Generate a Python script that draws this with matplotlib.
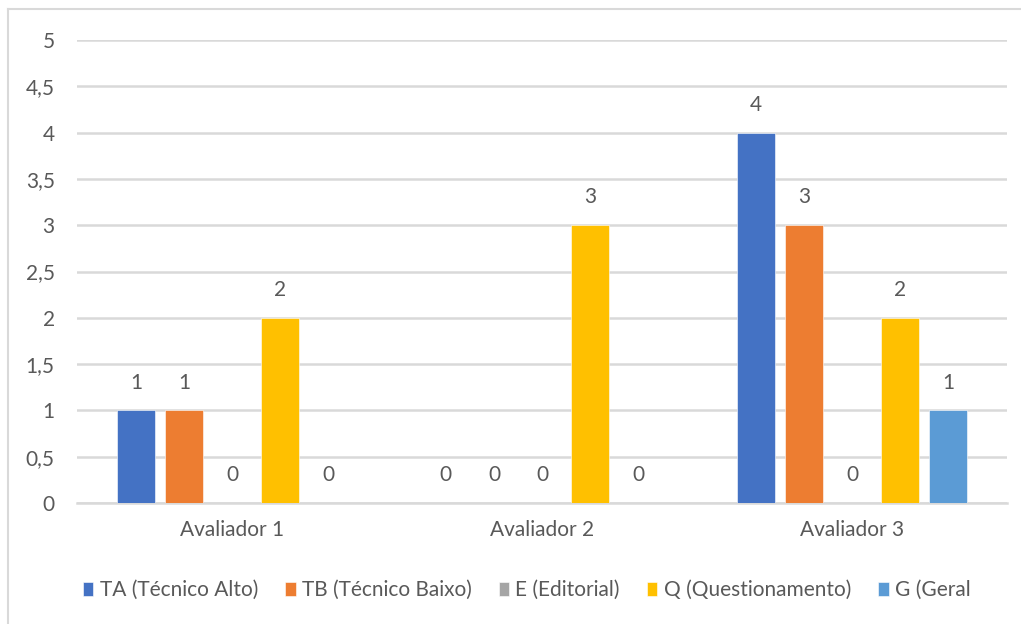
import numpy as np
import matplotlib
matplotlib.use("Agg")
import matplotlib.pyplot as plt
from matplotlib.lines import Line2D

categories = ["Avaliador 1", "Avaliador 2", "Avaliador 3"]
series_names = ["TA (Técnico Alto)", "TB (Técnico Baixo)", "E (Editorial)",
                "Q (Questionamento)", "G (Geral"]
ta = [1, 0, 4]
tb = [1, 0, 3]
e = [0, 0, 0]
q = [2, 3, 2]
g = [0, 0, 1]
yticks = [0, 0.5, 1, 1.5, 2, 2.5, 3, 3.5, 4, 4.5, 5]
ytick_labels = ["0", "0,5", "1", "1,5", "2", "2,5", "3", "3,5", "4", "4,5", "5"]

colors = ["#4472C4", "#ED7D31", "#A5A5A5", "#FFC000", "#5B9BD5"]
text_color = "#595959"
fs = 15

plt.rcParams['font.family'] = ['Lato', 'DejaVu Sans']

fig = plt.figure(figsize=(10.21, 6.24), dpi=100)
ax = fig.add_axes([0.0754, 0.1939, 0.9109, 0.742])

x = np.arange(len(categories))
step = 0.155
width = 0.1226
for j, (name, vals) in enumerate(zip(series_names, [ta, tb, e, q, g])):
    pos = x + (j - 2) * step
    ax.bar(pos, vals, width, color=colors[j], label=name, zorder=3,
           edgecolor="white", linewidth=0.4)
    for px, v in zip(pos, vals):
        ax.annotate(str(v), (px, v), xytext=(0, 20), textcoords="offset points",
                    ha="center", va="center", fontsize=fs, color=text_color)

ax.set_xlim(-0.5, 2.5)
ax.set_ylim(0, 5)
ax.set_yticks(yticks)
ax.set_yticklabels(ytick_labels)
ax.set_xticks(x)
ax.set_xticklabels(categories)
ax.tick_params(axis="both", length=0, labelsize=fs, colors=text_color)
ax.tick_params(axis="y", pad=16)
ax.tick_params(axis="x", pad=12)
ax.yaxis.grid(True, color="#D9D9D9", linewidth=1.8, zorder=0)
ax.set_axisbelow(True)
for side in ["top", "right", "left"]:
    ax.spines[side].set_visible(False)
ax.spines["bottom"].set_color("#D9D9D9")
ax.spines["bottom"].set_linewidth(1.8)

leg = fig.legend(loc="center", bbox_to_anchor=(0.516, 0.054), ncol=5, frameon=False,
                 fontsize=fs, handlelength=0.5, handleheight=0.6, handletextpad=0.3,
                 columnspacing=1.3)
for t in leg.get_texts():
    t.set_color(text_color)

# chart frame (left and top edges visible)
fig.add_artist(Line2D([8 / 1021, 8 / 1021], [0, 1 - 9 / 624], transform=fig.transFigure,
                      color="#D9D9D9", linewidth=1.5))
fig.add_artist(Line2D([8 / 1021, 1], [1 - 9 / 624, 1 - 9 / 624], transform=fig.transFigure,
                      color="#D9D9D9", linewidth=1.5))

fig.savefig("out.png", dpi=100)
